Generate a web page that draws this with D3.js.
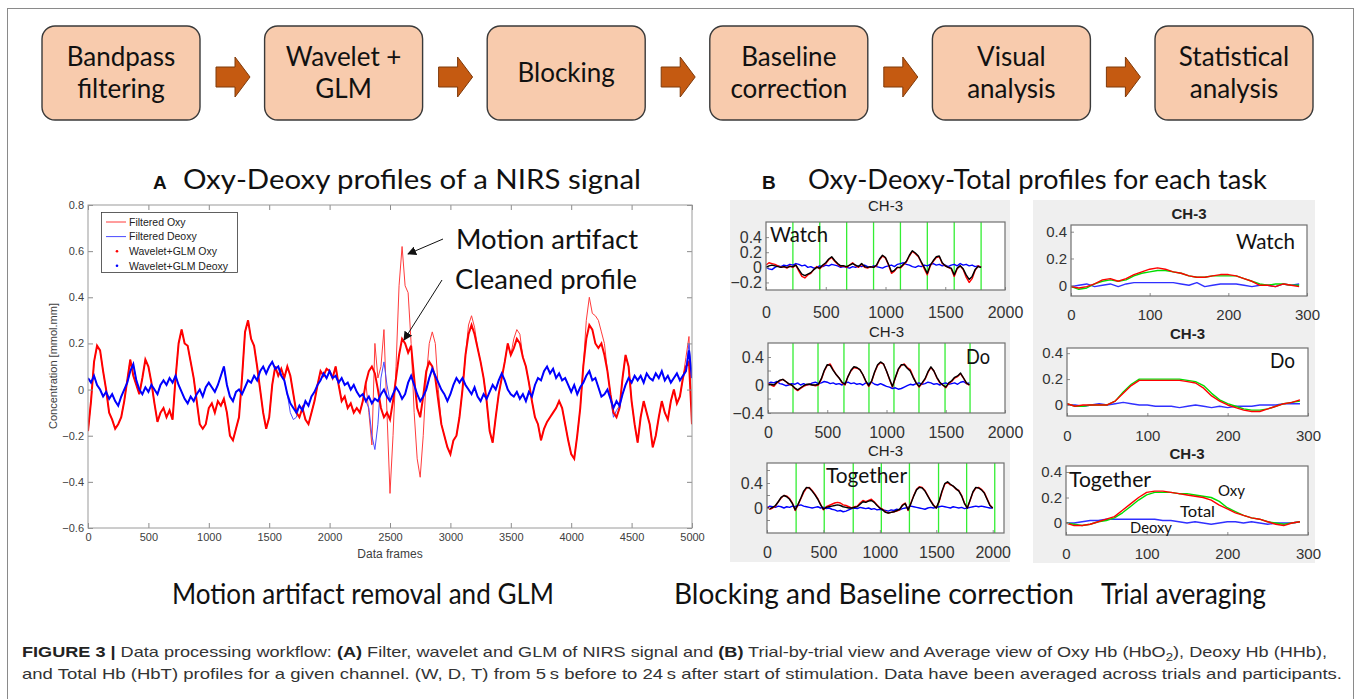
<!DOCTYPE html>
<html>
<head>
<meta charset="utf-8">
<script src="https://cdn.jsdelivr.net/npm/d3@7"></script>
<style>
  body { margin: 0; background: #fff; }
  svg { display: block; }
</style>
</head>
<body>
<div id="chart"></div>
<script>
// ---------- data ----------
const flowSteps = [["Bandpass", "filtering"], ["Wavelet +", "GLM"], ["Blocking"],
  ["Baseline", "correction"], ["Visual", "analysis"], ["Statistical", "analysis"]];

// panel A: one value every 25 data frames, 0..5000
const oxyClean = [
  -0.18,-0.05,0.12,0.19,0.17,0.08,0.0,-0.1,-0.13,-0.17,-0.15,-0.12,-0.05,0.04,0.13,0.06,0.02,-0.02,0.05,0.13,
  0.1,0.03,-0.06,-0.14,-0.1,-0.08,-0.12,-0.09,-0.13,0.05,0.2,0.26,0.2,0.19,0.12,0.05,-0.05,-0.15,-0.17,-0.15,
  -0.08,-0.06,-0.1,-0.05,-0.07,-0.04,-0.1,-0.2,-0.22,-0.17,-0.12,0.05,0.25,0.3,0.22,0.19,0.1,0.0,-0.1,-0.17,
  -0.12,0.02,0.1,0.06,0.09,0.05,0.1,0.06,-0.02,-0.1,-0.12,-0.08,-0.13,-0.15,-0.1,-0.05,0.02,0.08,0.06,0.09,
  0.08,0.05,0.1,0.02,-0.05,-0.03,-0.08,-0.06,-0.1,-0.08,-0.1,-0.05,0.03,0.08,0.1,0.07,0.0,-0.08,-0.12,-0.1,
  -0.13,-0.05,0.05,0.15,0.22,0.2,0.16,0.19,0.05,-0.08,-0.12,-0.03,0.08,0.12,0.1,0.05,-0.05,-0.15,-0.2,-0.25,
  -0.28,-0.22,-0.2,-0.12,0.0,0.15,0.24,0.28,0.24,0.18,0.12,0.05,-0.05,-0.18,-0.23,-0.12,-0.02,0.05,0.12,0.2,
  0.15,0.18,0.22,0.2,0.14,0.1,0.03,-0.05,-0.12,-0.15,-0.22,-0.17,-0.14,-0.12,-0.1,-0.08,-0.05,-0.08,-0.15,-0.22,
  -0.28,-0.3,-0.2,-0.08,0.1,0.22,0.28,0.26,0.2,0.18,0.2,0.15,0.08,-0.02,-0.1,-0.12,-0.08,0.05,0.15,0.1,
  -0.05,-0.15,-0.23,-0.12,-0.05,-0.1,-0.15,-0.25,-0.2,-0.12,-0.05,-0.1,-0.13,-0.05,0.0,-0.06,-0.03,0.05,0.1,0.12,
  -0.15];
const deoxyClean = [
  0.05,0.03,0.06,0.02,0.0,-0.03,-0.01,-0.04,-0.02,-0.05,-0.07,-0.03,0.0,0.03,0.08,0.11,0.04,0.0,-0.02,0.01,
  -0.01,0.02,0.0,-0.02,0.02,0.04,0.02,0.05,0.03,0.06,0.02,-0.01,-0.04,-0.06,-0.03,-0.05,-0.02,0.0,-0.03,0.01,
  0.03,0.01,-0.01,0.02,0.06,0.1,0.02,-0.03,-0.05,-0.01,0.0,-0.02,0.01,0.04,0.03,0.06,0.04,0.08,0.1,0.07,
  0.1,0.12,0.09,0.1,0.06,0.04,-0.02,-0.06,-0.08,-0.1,-0.07,-0.09,-0.05,-0.07,-0.03,-0.01,0.02,0.04,0.07,0.05,
  0.08,0.05,0.06,0.03,0.05,0.02,0.03,0.0,0.02,-0.01,-0.03,-0.02,-0.05,-0.03,-0.06,-0.04,-0.05,-0.02,0.0,-0.03,
  -0.05,-0.02,0.01,-0.01,-0.04,-0.02,0.03,0.06,0.02,-0.02,-0.05,-0.03,0.0,0.05,0.09,0.06,0.03,0.0,-0.02,-0.05,
  -0.02,0.02,0.05,0.03,0.05,0.02,0.0,-0.02,0.01,-0.03,-0.05,-0.02,-0.04,-0.01,0.02,0.0,0.04,0.07,0.04,0.0,
  -0.02,-0.03,-0.01,-0.04,-0.02,-0.05,-0.01,-0.03,0.02,0.05,0.04,0.08,0.1,0.07,0.09,0.05,0.07,0.04,0.05,0.02,
  -0.01,0.02,-0.02,0.01,0.03,0.06,0.08,0.04,0.05,0.01,-0.03,-0.02,0.0,-0.04,-0.08,-0.05,-0.07,-0.02,0.02,0.05,
  0.03,0.06,0.04,0.06,0.03,0.07,0.05,0.04,0.07,0.05,0.08,0.04,0.06,0.03,0.05,0.07,0.04,0.06,0.08,0.17,
  0.05];
// frames where the filtered (uncorrected) signal departs from the cleaned one
const oxyArtifact = [[2325,-0.1],[2350,-0.24],[2375,0.2],[2400,0.05],[2425,0.1],[2450,0.26],[2475,-0.1],
  [2500,-0.45],[2525,-0.2],[2550,0.1],[2575,0.45],[2600,0.62],[2625,0.45],[2650,0.42],[2675,0.2],[2700,-0.1],
  [2725,-0.3],[2750,-0.38],[2775,-0.2],[2800,0.05],[2825,0.2],[2850,0.25],[2875,0.2],[2900,0.0],
  [3150,0.28],[3175,0.32],[3200,0.27],[3525,0.22],[3550,0.26],[3575,0.24],[4125,0.3],[4150,0.4],
  [4175,0.33],[4200,0.32],[4225,0.3],[4250,0.25],[4275,0.2],[4950,0.14],[4975,0.23]];
const deoxyArtifact = [[1675,-0.1],[1700,-0.13],[1725,-0.12],[2325,-0.08],[2350,-0.2],[2375,-0.26],
  [2400,-0.15],[2425,0.05],[2450,0.12],[2475,0.02],[4350,-0.12],[4375,-0.09],[4975,0.2]];
const yTicksA = [-0.6, -0.4, -0.2, 0, 0.2, 0.4, 0.6, 0.8];
const xTicksA = [0, 500, 1000, 1500, 2000, 2500, 3000, 3500, 4000, 4500, 5000];

// panel B, trial-by-trial (one value every 25 frames)
const watchOxy = [0.03,0.06,0.05,0.04,0.02,0.0,0.01,-0.01,0.02,0.0,
  0.03,-0.05,-0.12,-0.14,-0.1,-0.08,-0.03,0.01,-0.02,0.02,
  0.05,0.1,0.13,0.08,0.04,0.01,0.02,0.0,0.03,0.06,
  0.02,0.0,0.04,0.0,-0.01,0.01,0.0,0.02,0.1,0.15,
  0.12,0.03,-0.08,-0.05,0.0,-0.01,0.03,0.07,0.15,0.21,
  0.18,0.14,0.06,-0.02,-0.1,0.02,0.08,0.13,0.14,0.05,
  0.02,0.0,-0.02,-0.12,-0.02,0.02,-0.03,-0.13,-0.2,-0.15,
  -0.04,0.02,0.0];
const watchTotal = [0.0,0.02,0.03,0.02,0.01,0.0,0.01,0.0,0.01,0.01,
  0.03,-0.03,-0.09,-0.11,-0.09,-0.07,-0.03,0.0,-0.01,0.03,
  0.06,0.11,0.14,0.09,0.05,0.02,0.02,0.01,0.03,0.05,
  0.03,0.01,0.05,0.01,0.0,0.01,0.0,0.03,0.11,0.16,
  0.13,0.04,-0.06,-0.04,0.0,0.0,0.04,0.08,0.16,0.22,
  0.19,0.15,0.07,0.0,-0.08,0.03,0.09,0.14,0.15,0.06,
  0.02,0.0,-0.01,-0.1,-0.01,0.02,-0.02,-0.1,-0.16,-0.12,
  -0.03,0.01,0.0];
const watchDeoxy = [0.0,-0.02,-0.03,0.0,0.02,0.01,0.03,0.02,0.04,0.03,
  0.05,0.04,0.02,0.03,0.0,0.01,-0.01,0.0,0.02,0.01,
  0.03,0.02,0.04,0.03,0.02,0.0,0.01,0.0,-0.01,0.01,
  0.0,0.02,0.01,0.03,0.01,0.0,0.02,0.01,0.0,-0.01,
  0.01,0.02,0.03,0.01,0.04,0.05,0.06,0.04,0.03,0.01,
  0.0,0.02,0.01,0.03,0.02,0.04,0.05,0.03,0.04,0.02,
  0.03,0.01,0.03,0.04,0.02,0.05,0.03,0.04,0.02,0.03,
  0.01,0.02,0.0];
const doOxy = [0.02,0.0,-0.02,0.03,0.06,0.08,0.05,0.01,0.0,-0.05,
  -0.08,-0.05,-0.02,0.0,0.01,0.0,-0.01,0.0,0.08,0.2,
  0.28,0.3,0.22,0.15,0.1,0.03,0.0,0.12,0.2,0.25,
  0.24,0.22,0.15,0.05,-0.02,0.05,0.18,0.28,0.32,0.3,
  0.2,0.08,-0.03,0.1,0.22,0.28,0.3,0.25,0.22,0.12,
  0.03,-0.03,0.02,0.08,0.18,0.25,0.2,0.1,0.03,0.0,
  -0.04,0.02,0.05,0.1,0.12,0.16,0.1,0.02,0.0];
const doTotal = [0.0,0.01,0.0,0.04,0.07,0.08,0.05,0.02,0.0,-0.04,
  -0.07,-0.04,-0.01,0.01,0.01,0.0,0.0,0.01,0.09,0.21,
  0.29,0.28,0.21,0.15,0.1,0.04,0.01,0.12,0.21,0.26,
  0.25,0.22,0.15,0.06,-0.01,0.06,0.19,0.29,0.33,0.3,
  0.2,0.09,-0.02,0.11,0.23,0.29,0.29,0.24,0.2,0.11,
  0.03,-0.02,0.03,0.09,0.19,0.26,0.2,0.11,0.04,0.0,
  -0.03,0.03,0.06,0.11,0.13,0.17,0.1,0.03,0.0];
const doDeoxy = [0.02,0.04,0.03,0.05,0.02,0.01,-0.01,0.0,0.02,0.01,
  0.03,0.0,0.02,0.0,0.01,0.03,0.04,0.02,0.03,0.05,
  0.04,0.02,0.03,0.01,0.02,0.0,0.03,0.04,0.02,0.03,
  0.01,0.02,0.0,0.03,0.02,0.04,0.01,0.0,0.02,0.0,
  -0.02,-0.03,-0.05,-0.04,-0.06,-0.05,-0.03,-0.01,0.01,0.0,
  0.02,0.03,0.01,0.02,0.04,0.03,0.01,0.02,0.0,0.02,
  0.03,0.01,0.02,0.03,0.01,0.04,0.05,0.02,0.03];
const togetherOxy = [0.02,-0.02,0.0,0.03,0.1,0.16,0.2,0.19,0.15,0.08,
  -0.04,0.05,0.15,0.25,0.32,0.33,0.28,0.22,0.15,0.06,
  -0.03,0.02,0.04,0.06,0.08,0.09,0.08,0.05,0.04,0.02,
  0.0,0.02,0.03,0.08,0.12,0.1,0.12,0.14,0.1,0.05,
  0.0,-0.02,-0.06,-0.08,-0.07,-0.06,-0.05,-0.03,0.05,0.08,
  -0.04,0.08,0.2,0.3,0.34,0.33,0.28,0.2,0.12,0.05,
  0.0,0.1,0.25,0.38,0.41,0.37,0.35,0.3,0.28,0.2,
  0.08,0.0,0.12,0.25,0.32,0.33,0.3,0.25,0.15,0.05,
  0.0];
const togetherTotal = [0.0,-0.01,0.01,0.04,0.1,0.17,0.2,0.18,0.14,0.07,
  -0.03,0.06,0.16,0.27,0.33,0.32,0.27,0.21,0.14,0.05,
  -0.02,0.01,0.02,0.03,0.04,0.05,0.04,0.02,0.01,0.0,
  0.0,0.01,0.02,0.06,0.1,0.09,0.11,0.12,0.09,0.04,
  0.0,-0.03,-0.07,-0.08,-0.07,-0.06,-0.04,-0.02,0.04,0.07,
  -0.03,0.07,0.19,0.29,0.33,0.32,0.27,0.19,0.11,0.04,
  0.0,0.11,0.27,0.39,0.42,0.38,0.35,0.31,0.27,0.19,
  0.07,0.0,0.13,0.26,0.33,0.32,0.29,0.24,0.14,0.04,
  0.0];
const togetherDeoxy = [0.0,0.03,0.02,0.01,0.03,0.02,0.0,0.02,0.01,0.03,
  0.02,0.04,0.05,0.03,0.02,0.01,0.0,0.01,0.02,0.0,
  0.01,-0.01,0.0,-0.02,-0.03,-0.05,-0.04,-0.06,-0.05,-0.03,
  -0.01,0.0,-0.01,0.01,0.0,-0.01,0.0,-0.02,-0.01,-0.03,
  -0.02,-0.03,-0.04,-0.05,-0.03,-0.04,-0.02,-0.03,-0.01,0.0,
  0.01,0.03,0.02,0.01,0.0,-0.01,-0.02,0.0,0.01,0.0,
  0.01,0.02,0.03,0.02,0.01,0.0,0.02,0.01,0.0,0.01,
  -0.01,0.0,0.01,0.02,0.03,0.02,0.03,0.02,0.01,0.0,
  0.0];
const watchOnsets = [225, 450, 675, 900, 1125, 1350, 1575, 1800];
const doOnsets = [211, 422, 641, 852, 1063, 1274, 1494, 1705];
const togetherOnsets = [258, 507, 764, 1013, 1262, 1520, 1769, 2018];
const blockTicks = [0, 500, 1000, 1500, 2000];

// panel B, trial averages (one value every 10 frames, 0..290)
const avgWatchOxy = [-0.01,-0.02,-0.01,0.01,0.04,0.05,0.03,0.05,0.08,0.1,0.12,0.13,0.12,0.1,0.09,
  0.07,0.06,0.06,0.07,0.08,0.08,0.07,0.05,0.03,0.0,0.0,-0.01,0.01,0.0,-0.01];
const avgWatchTotal = [-0.01,-0.03,-0.02,0.01,0.03,0.04,0.03,0.04,0.07,0.09,0.1,0.11,0.11,0.1,0.09,
  0.07,0.06,0.06,0.07,0.07,0.07,0.07,0.05,0.03,0.01,0.0,0.01,0.01,0.0,0.0];
const avgWatchDeoxy = [-0.01,0.0,0.01,-0.01,0.0,0.01,-0.01,0.01,0.02,0.02,0.02,0.02,0.02,0.02,0.01,
  0.0,0.02,-0.01,0.0,0.01,0.01,0.01,0.0,-0.01,0.0,0.0,-0.01,0.01,0.0,0.01];
const avgDoOxy = [0.01,-0.01,0.0,0.0,0.0,0.0,0.03,0.09,0.15,0.19,0.19,0.19,0.19,0.19,0.19,
  0.18,0.17,0.13,0.07,0.03,0.0,-0.02,-0.04,-0.05,-0.05,-0.03,-0.01,0.01,0.02,0.04];
const avgDoTotal = [0.01,-0.01,-0.01,0.0,0.0,0.0,0.03,0.1,0.16,0.2,0.2,0.2,0.2,0.2,0.2,
  0.19,0.18,0.15,0.09,0.04,0.01,-0.01,-0.03,-0.04,-0.04,-0.03,-0.01,0.01,0.02,0.03];
const avgDoDeoxy = [0.0,0.0,-0.01,0.0,0.01,0.0,0.01,0.02,0.01,0.0,0.0,-0.01,-0.01,-0.01,-0.02,
  -0.01,0.0,-0.01,-0.02,-0.01,-0.02,-0.01,-0.01,-0.01,0.0,0.0,0.0,0.01,0.01,0.01];
const avgTogetherOxy = [0.0,-0.02,-0.02,-0.01,0.01,0.03,0.05,0.1,0.15,0.2,0.24,0.25,0.25,0.24,0.23,
  0.22,0.21,0.2,0.18,0.14,0.11,0.08,0.06,0.04,0.03,0.01,-0.01,-0.02,0.0,0.01];
const avgTogetherTotal = [0.0,-0.01,-0.02,-0.01,0.01,0.02,0.04,0.08,0.13,0.18,0.22,0.24,0.24,0.24,0.23,
  0.23,0.22,0.21,0.2,0.17,0.12,0.09,0.06,0.04,0.03,0.01,0.0,-0.01,0.0,0.01];
const avgTogetherDeoxy = [0.0,0.0,0.01,0.02,0.02,0.03,0.03,0.03,0.03,0.03,0.03,0.03,0.02,0.02,0.01,
  0.0,0.01,0.0,-0.01,0.0,0.01,0.01,0.0,0.01,0.0,-0.01,0.0,0.0,0.0,0.01];
const avgTicks = [0, 100, 200, 300];

// ---------- setup ----------
const CAL = "Lato, 'Open Sans', sans-serif";
const ARIAL = "'Liberation Sans', Arial, sans-serif";
const NARROW = "'Liberation Sans Narrow', 'Liberation Sans', Arial, sans-serif";

const svg = d3.select("#chart").append("svg")
  .attr("width", 1360)
  .attr("height", 699);

svg.append("rect").attr("width", 1360).attr("height", 699).attr("fill", "#fff");
// figure frame
svg.append("rect")
  .attr("x", 7.5).attr("y", 8.5).attr("width", 1346).attr("height", 720)
  .attr("fill", "none").attr("stroke", "#8a8a8a").attr("stroke-width", 1);

// text with a fixed drawn width
function fitText(g, str, x, y, size, width, opts = {}) {
  const t = g.append("text")
    .attr("x", x).attr("y", y)
    .style("font-family", opts.family || CAL)
    .style("font-size", size + "px")
    .style("font-weight", opts.weight || "normal")
    .attr("fill", opts.fill || "#111")
    .attr("text-anchor", opts.anchor || "start")
    .text(str);
  if (width) t.attr("textLength", width).attr("lengthAdjust", "spacingAndGlyphs");
  return t;
}

// ---------- flow chart ----------
const gFlow = svg.append("g");
flowSteps.forEach((lines, i) => {
  const bx = 42 + i * 222.6, by = 26, bw = 158, bh = 94;
  gFlow.append("rect")
    .attr("x", bx).attr("y", by).attr("width", bw).attr("height", bh)
    .attr("rx", 13).attr("fill", "#f8cbad")
    .attr("stroke", "#3a3a3a").attr("stroke-width", 1.4);
  const cx = bx + bw / 2;
  if (lines.length === 2) {
    fitText(gFlow, lines[0], cx, 66, 26, null, {anchor: "middle"});
    fitText(gFlow, lines[1], cx, 98, 26, null, {anchor: "middle"});
  } else {
    fitText(gFlow, lines[0], cx, 82, 26, null, {anchor: "middle"});
  }
  if (i < flowSteps.length - 1) {
    const ax = bx + bw + 16, ay = 77;
    gFlow.append("path")
      .attr("d", `M${ax},${ay - 10}H${ax + 19}V${ay - 20}L${ax + 34},${ay}L${ax + 19},${ay + 20}V${ay + 10}H${ax}Z`)
      .attr("fill", "#c55a11").attr("stroke", "#7f3a0b").attr("stroke-width", 1);
  }
});

// ---------- panel A ----------
const gA = svg.append("g");
const framesA = oxyClean.map((v, i) => i * 25);
const xA = d3.scaleLinear().domain([0, 5000]).range([88, 692]);
const yA = d3.scaleLinear().domain([-0.6, 0.8]).range([528, 205]);

function withArtifacts(clean, artifacts) {
  const m = new Map(artifacts);
  return framesA.map((f, i) => [f, m.has(f) ? m.get(f) : clean[i]]);
}
const oxyFiltered = withArtifacts(oxyClean, oxyArtifact);
const deoxyFiltered = withArtifacts(deoxyClean, deoxyArtifact);
const oxyCleanPts = framesA.map((f, i) => [f, oxyClean[i]]);
const deoxyCleanPts = framesA.map((f, i) => [f, deoxyClean[i]]);

gA.append("clipPath").attr("id", "clipA").append("rect")
  .attr("x", 88).attr("y", 205).attr("width", 604).attr("height", 323);

const lineA = d3.line().x(d => xA(d[0])).y(d => yA(d[1]));
const plotA = gA.append("g").attr("clip-path", "url(#clipA)");
plotA.append("path").attr("d", lineA(oxyFiltered)).attr("fill", "none")
  .attr("stroke", "#ff3b3b").attr("stroke-width", 1);
plotA.append("path").attr("d", lineA(deoxyFiltered)).attr("fill", "none")
  .attr("stroke", "#4a4aff").attr("stroke-width", 1);
plotA.append("path").attr("d", lineA(oxyCleanPts)).attr("fill", "none")
  .attr("stroke", "#ff0000").attr("stroke-width", 2);
plotA.append("path").attr("d", lineA(deoxyCleanPts)).attr("fill", "none")
  .attr("stroke", "#0000ff").attr("stroke-width", 2);

// axes (ticks point inside like MATLAB)
const fmtA = d => d === 0 ? "0" : d3.format(".1f")(d);
function styleAxis(sel, size, color) {
  sel.select(".domain").remove();
  sel.selectAll(".tick line").attr("stroke", "#8c8c8c");
  sel.selectAll(".tick text").attr("fill", color || "#404040")
    .style("font-family", ARIAL).style("font-size", size + "px");
}
gA.append("g").attr("transform", "translate(0,528)")
  .call(d3.axisBottom(xA).tickValues(xTicksA).tickFormat(d3.format("d")).tickSizeInner(-5).tickSizeOuter(0).tickPadding(5))
  .call(s => styleAxis(s, 11));
gA.append("g").attr("transform", "translate(88,0)")
  .call(d3.axisLeft(yA).tickValues(yTicksA).tickFormat(fmtA).tickSizeInner(-5).tickSizeOuter(0).tickPadding(4))
  .call(s => styleAxis(s, 11));
gA.append("g").attr("transform", "translate(0,205)")
  .call(d3.axisTop(xA).tickValues(xTicksA).tickFormat("").tickSizeInner(-5).tickSizeOuter(0))
  .call(s => styleAxis(s, 11));
gA.append("g").attr("transform", "translate(692,0)")
  .call(d3.axisRight(yA).tickValues(yTicksA).tickFormat("").tickSizeInner(-5).tickSizeOuter(0))
  .call(s => styleAxis(s, 11));
gA.append("rect").attr("x", 88).attr("y", 205).attr("width", 604).attr("height", 323)
  .attr("fill", "none").attr("stroke", "#9a9a9a").attr("stroke-width", 1);

fitText(gA, "Data frames", 390, 558, 12, null, {family: ARIAL, anchor: "middle", fill: "#404040"});
fitText(gA, "Concentration [mmol.mm]", 0, 0, 11, null, {family: ARIAL, anchor: "middle", fill: "#404040"})
  .attr("transform", "translate(57,366) rotate(-90)");

// legend
const legendA = [
  {name: "Filtered Oxy", color: "#ff3b3b", dot: false},
  {name: "Filtered Deoxy", color: "#4a4aff", dot: false},
  {name: "Wavelet+GLM Oxy", color: "#ff0000", dot: true},
  {name: "Wavelet+GLM Deoxy", color: "#0000ff", dot: true}];
const gLeg = gA.append("g");
gLeg.append("rect").attr("x", 101.5).attr("y", 212.5).attr("width", 136).attr("height", 60)
  .attr("fill", "#fff").attr("stroke", "#3a3a3a").attr("stroke-width", 0.8);
legendA.forEach((d, i) => {
  const ly = 222 + i * 14.6;
  if (d.dot) {
    gLeg.append("circle").attr("cx", 117).attr("cy", ly).attr("r", 1.3).attr("fill", d.color);
  } else {
    gLeg.append("line").attr("x1", 106).attr("x2", 126).attr("y1", ly).attr("y2", ly)
      .attr("stroke", d.color).attr("stroke-width", 1);
  }
  fitText(gLeg, d.name, 129, ly + 3.8, 10.5, null, {family: ARIAL, fill: "#222"});
});

// annotations
const defs = svg.append("defs");
defs.append("marker").attr("id", "arrowHead").attr("viewBox", "0 0 10 10")
  .attr("refX", 9).attr("refY", 5).attr("markerWidth", 9).attr("markerHeight", 9)
  .attr("markerUnits", "userSpaceOnUse").attr("orient", "auto")
  .append("path").attr("d", "M0,0L10,5L0,10Z").attr("fill", "#111");
fitText(gA, "Motion artifact", 456, 249, 27, 182);
fitText(gA, "Cleaned profile", 455, 289, 27, 182);
gA.append("line").attr("x1", 443).attr("y1", 239).attr("x2", 408).attr("y2", 254)
  .attr("stroke", "#111").attr("stroke-width", 1).attr("marker-end", "url(#arrowHead)");
gA.append("line").attr("x1", 442).attr("y1", 280).attr("x2", 404).attr("y2", 340)
  .attr("stroke", "#111").attr("stroke-width", 1).attr("marker-end", "url(#arrowHead)");

// titles
fitText(svg, "A", 153, 189, 19, null, {family: ARIAL, weight: "bold"});
fitText(svg, "Oxy-Deoxy profiles of a NIRS signal", 183, 189, 27, 458);
fitText(svg, "B", 762, 189, 19, null, {family: ARIAL, weight: "bold"});
fitText(svg, "Oxy-Deoxy-Total profiles for each task", 808, 189, 27, 459);

// ---------- panel B ----------
svg.append("rect").attr("x", 730).attr("y", 200).attr("width", 280).attr("height", 362).attr("fill", "#efefef");
svg.append("rect").attr("x", 1033).attr("y", 200).attr("width", 282).attr("height", 363).attr("fill", "#efefef");

const framesBlock = n => d3.range(n).map(i => i * 25);
const framesAvg = d3.range(30).map(i => i * 10);

const subplots = [
  {id: "w", x0: 766, x1: 1005, y0: 222, y1: 290, xDom: [0, 2000], yDom: [-0.3, 0.6],
   yTicks: [-0.2, 0, 0.2, 0.4], xTicks: blockTicks, onsets: watchOnsets, titleY: 211, labY: 318,
   series: [[watchDeoxy, "#0000ff"], [watchOxy, "#ff0000"], [watchTotal, "#000"]], frames: framesBlock(73),
   bold: false, word: "Watch", wx: 770, wy: 242, ww: 58, fs: 16},
  {id: "d", x0: 768, x1: 1005, y0: 343, y1: 413, xDom: [0, 2000], yDom: [-0.4, 0.6],
   yTicks: [-0.4, 0, 0.4], minor: [-0.2, 0.2], xTicks: blockTicks, onsets: doOnsets, titleY: 337, labY: 438,
   series: [[doDeoxy, "#0000ff"], [doOxy, "#ff0000"], [doTotal, "#000"]], frames: framesBlock(69),
   bold: false, word: "Do", wx: 966, wy: 364, ww: 24, fs: 16},
  {id: "t", x0: 767, x1: 1004, y0: 463, y1: 533, xDom: [0, 2100], yDom: [-0.4, 0.72],
   yTicks: [0, 0.4], minor: [-0.2, 0.2, 0.6], xTicks: blockTicks, onsets: togetherOnsets, titleY: 456, labY: 558,
   series: [[togetherDeoxy, "#0000ff"], [togetherOxy, "#ff0000"], [togetherTotal, "#000"]], frames: framesBlock(81),
   bold: false, word: "Together", wx: 826, wy: 483, ww: 81, fs: 16},
  {id: "aw", x0: 1071, x1: 1307, y0: 225, y1: 296, xDom: [0, 300], yDom: [-0.08, 0.45],
   yTicks: [0, 0.2, 0.4], xTicks: avgTicks, onsets: [], titleY: 219, labY: 320,
   series: [[avgWatchDeoxy, "#3030ff"], [avgWatchTotal, "#00dd00"], [avgWatchOxy, "#ff0000"]], frames: framesAvg,
   bold: true, word: "Watch", wx: 1236, wy: 249, ww: 59, fs: 15},
  {id: "ad", x0: 1067, x1: 1308, y0: 348, y1: 416, xDom: [0, 300], yDom: [-0.085, 0.44],
   yTicks: [0, 0.2, 0.4], xTicks: avgTicks, onsets: [], titleY: 339, labY: 441,
   series: [[avgDoDeoxy, "#3030ff"], [avgDoTotal, "#00dd00"], [avgDoOxy, "#ff0000"]], frames: framesAvg,
   bold: true, word: "Do", wx: 1270, wy: 368, ww: 25, fs: 15},
  {id: "at", x0: 1066, x1: 1308, y0: 466, y1: 535, xDom: [0, 300], yDom: [-0.094, 0.447],
   yTicks: [0, 0.2, 0.4], xTicks: avgTicks, onsets: [], titleY: 459, labY: 559,
   series: [[avgTogetherDeoxy, "#3030ff"], [avgTogetherTotal, "#00dd00"], [avgTogetherOxy, "#ff0000"]], frames: framesAvg,
   bold: true, word: "Together", wx: 1069, wy: 487, ww: 82, fs: 15}
];

const fmtB = d => d === 0 ? "0" : d3.format(".1f")(d);
subplots.forEach(p => {
  const g = svg.append("g");
  const x = d3.scaleLinear().domain(p.xDom).range([p.x0, p.x1]);
  const y = d3.scaleLinear().domain(p.yDom).range([p.y1, p.y0]);
  g.append("rect").attr("x", p.x0).attr("y", p.y0).attr("width", p.x1 - p.x0).attr("height", p.y1 - p.y0)
    .attr("fill", "#fff");
  g.append("clipPath").attr("id", "clip-" + p.id).append("rect")
    .attr("x", p.x0).attr("y", p.y0).attr("width", p.x1 - p.x0).attr("height", p.y1 - p.y0);
  const plot = g.append("g").attr("clip-path", `url(#clip-${p.id})`);
  p.onsets.forEach(o => {
    plot.append("line").attr("x1", x(o)).attr("x2", x(o)).attr("y1", p.y0).attr("y2", p.y1)
      .attr("stroke", "#33ee33").attr("stroke-width", 1.3);
  });
  const line = d3.line().x((d, i) => x(p.frames[i])).y(d => y(d));
  p.series.forEach(([vals, color]) => {
    plot.append("path").attr("d", line(vals)).attr("fill", "none")
      .attr("stroke", color).attr("stroke-width", 1.4).attr("stroke-linejoin", "round");
  });
  const ax = g.append("g").attr("transform", `translate(0,${p.y1})`)
    .call(d3.axisBottom(x).tickValues(p.xTicks).tickFormat(d3.format("d")).tickSizeInner(-3).tickSizeOuter(0).tickPadding(0));
  styleAxis(ax, p.fs, "#333");
  ax.selectAll(".tick text").attr("y", p.labY - p.y1).attr("dy", null);
  const ay = g.append("g").attr("transform", `translate(${p.x0},0)`)
    .call(d3.axisLeft(y).tickValues(p.yTicks).tickFormat(fmtB).tickSizeInner(-3).tickSizeOuter(0).tickPadding(4));
  styleAxis(ay, p.fs, "#333");
  (p.minor || []).forEach(m => {
    g.append("line").attr("x1", p.x0).attr("x2", p.x0 + 3).attr("y1", y(m)).attr("y2", y(m)).attr("stroke", "#8c8c8c");
  });
  g.append("rect").attr("x", p.x0).attr("y", p.y0).attr("width", p.x1 - p.x0).attr("height", p.y1 - p.y0)
    .attr("fill", "none").attr("stroke", "#707070").attr("stroke-width", 1.2);
  fitText(g, "CH-3", (p.x0 + p.x1) / 2, p.titleY, 15, null,
    {family: ARIAL, anchor: "middle", weight: p.bold ? "bold" : "normal", fill: "#222"});
  fitText(g, p.word, p.wx, p.wy, 22, p.ww);
});

// labels inside the average "Together" plot
fitText(svg, "Oxy", 1218, 496, 16, 27);
fitText(svg, "Total", 1180, 517, 16, 35);
fitText(svg, "Deoxy", 1130, 533, 16, 42);

// ---------- step labels ----------
fitText(svg, "Motion artifact removal and GLM", 172, 604, 28, 382);
fitText(svg, "Blocking and Baseline correction", 674, 604, 28, 400);
fitText(svg, "Trial averaging", 1101, 604, 28, 165);

// ---------- caption ----------
const cap = svg.append("g").style("font-family", NARROW).style("font-size", "15px").attr("fill", "#333");
const line1 = cap.append("text").attr("x", 22).attr("y", 657)
  .attr("textLength", 1305).attr("lengthAdjust", "spacingAndGlyphs");
[["FIGURE 3 |", "b"], [" Data processing workflow: ", ""], ["(A)", "b"],
 [" Filter, wavelet and GLM of NIRS signal and ", ""], ["(B)", "b"],
 [" Trial-by-trial view and Average view of Oxy Hb (HbO", ""], ["2", "sub"],
 ["), Deoxy Hb (HHb),", "after"]].forEach(([s, k]) => {
  const t = line1.append("tspan").text(s);
  if (k === "b") t.style("font-weight", "bold").attr("fill", "#222");
  if (k === "sub") t.attr("dy", 4).style("font-size", "11px");
  if (k === "after") t.attr("dy", -4);
});
cap.append("text").attr("x", 22).attr("y", 679)
  .attr("textLength", 1320).attr("lengthAdjust", "spacingAndGlyphs")
  .text("and Total Hb (HbT) profiles for a given channel. (W, D, T) from 5\u2009s before to 24\u2009s after start of stimulation. Data have been averaged across trials and participants.");
</script>
</body>
</html>
